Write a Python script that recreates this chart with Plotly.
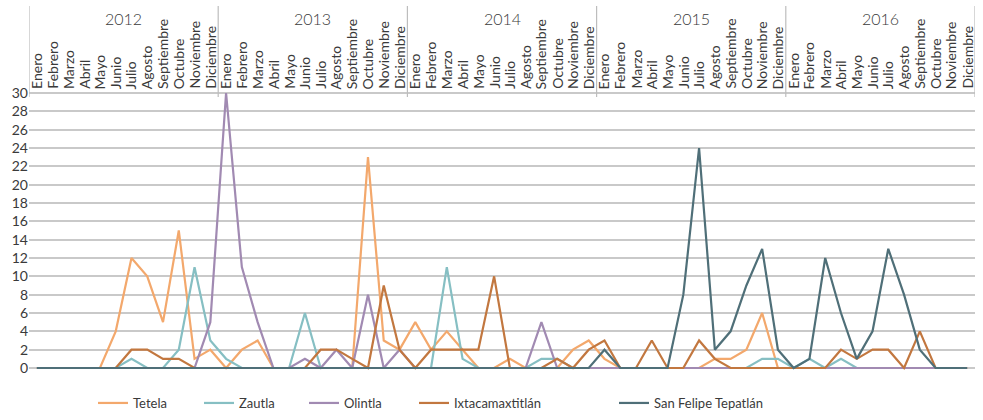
import plotly.graph_objects as go

years = ["2012", "2013", "2014", "2015", "2016"]
months = ["Enero", "Febrero", "Marzo", "Abril", "Mayo", "Junio", "Julio",
          "Agosto", "Septiembre", "Octubre", "Noviembre", "Diciembre"]

tetela = [0, 0, 0, 0, 0, 4, 12, 10, 5, 15, 1, 2,
          0, 2, 3, 0, 0, 0, 0, 0, 0, 23, 3, 2,
          5, 2, 4, 2, 0, 0, 1, 0, 0, 0, 2, 3,
          1, 0, 0, 0, 0, 0, 0, 1, 1, 2, 6, 0,
          0, 0, 0, 0, 0, 0, 0, 0, 0, 0, 0, 0]
zautla = [0, 0, 0, 0, 0, 0, 1, 0, 0, 2, 11, 3,
          1, 0, 0, 0, 0, 6, 0, 0, 0, 0, 0, 0,
          0, 0, 11, 1, 0, 0, 0, 0, 1, 1, 0, 0,
          0, 0, 0, 0, 0, 0, 0, 0, 0, 0, 1, 1,
          0, 1, 0, 1, 0, 0, 0, 0, 0, 0, 0, 0]
olintla = [0, 0, 0, 0, 0, 0, 0, 0, 0, 0, 0, 5,
           30, 11, 5, 0, 0, 1, 0, 2, 0, 8, 0, 2,
           0, 0, 0, 0, 0, 0, 0, 0, 5, 0, 0, 0,
           0, 0, 0, 0, 0, 0, 0, 0, 0, 0, 0, 0,
           0, 0, 0, 0, 0, 0, 0, 0, 0, 0, 0, 0]
ixtacamaxtitlan = [0, 0, 0, 0, 0, 0, 2, 2, 1, 1, 0, 0,
                   0, 0, 0, 0, 0, 0, 2, 2, 1, 0, 9, 2,
                   0, 2, 2, 2, 2, 10, 0, 0, 0, 1, 0, 2,
                   3, 0, 0, 3, 0, 0, 3, 1, 0, 0, 0, 0,
                   0, 0, 0, 2, 1, 2, 2, 0, 4, 0, 0, 0]
san_felipe = [0, 0, 0, 0, 0, 0, 0, 0, 0, 0, 0, 0,
              0, 0, 0, 0, 0, 0, 0, 0, 0, 0, 0, 0,
              0, 0, 0, 0, 0, 0, 0, 0, 0, 0, 0, 0,
              2, 0, 0, 0, 0, 8, 24, 2, 4, 9, 13, 2,
              0, 1, 12, 6, 1, 4, 13, 8, 2, 0, 0, 0]

series_names = ["Tetela", "Zautla", "Olintla", "Ixtacamaxtitlán", "San Felipe Tepatlán"]
series_values = [tetela, zautla, olintla, ixtacamaxtitlan, san_felipe]
colors = ["#F3A86C", "#86BFC3", "#A18AB2", "#C2773F", "#4F6F78"]

n = len(years) * len(months)
xs = list(range(n))

W, H = 983, 420
ML, MR, MT, MB = 29, 8, 90, 48
PW = W - ML - MR
PH = H - MT - MB

FONT = "Lato"
TXT = "#3a3a3a"

fig = go.Figure()
legend_text_px = [135, 241, 346, 456, 656]
for i, (name, vals, col) in enumerate(zip(series_names, series_values, colors)):
    lg = "legend" if i == 0 else f"legend{i+1}"
    fig.add_trace(go.Scatter(
        x=xs, y=vals, mode="lines", name=name,
        line=dict(color=col, width=2.2),
        legend=lg, hoverinfo="x+y+name",
    ))

annotations = []
for yi, yr in enumerate(years):
    for mi, m in enumerate(months):
        annotations.append(dict(
            x=yi * 12 + mi, xref="x", y=1 - 1 / PH, yref="paper",
            text=m, textangle=-90, showarrow=False,
            xanchor="center", yanchor="bottom",
            font=dict(family=FONT, size=14, color=TXT),
        ))
    annotations.append(dict(
        x=yi * 12 + 5.5, xref="x", y=1 + (MT - 18) / PH, yref="paper",
        text=yr, showarrow=False, xanchor="center", yanchor="middle",
        font=dict(family=FONT, size=16, color=TXT, weight=300),
    ))

shapes = []
for k in range(len(years) + 1):
    shapes.append(dict(
        type="line", xref="x", yref="paper",
        x0=k * 12 - 0.5, x1=k * 12 - 0.5,
        y0=1 - 7 / PH, y1=1 + (MT - 6) / PH,
        line=dict(color="#BDBDBD", width=1.2),
    ))

layout_legends = {}
for i, tx in enumerate(legend_text_px):
    key = "legend" if i == 0 else f"legend{i+1}"
    layout_legends[key] = dict(
        x=(tx - 42 - ML) / PW, xanchor="left",
        y=-(403 - (H - MB)) / PH, yanchor="middle",
        orientation="h", bgcolor="rgba(0,0,0,0)",
        font=dict(family=FONT, size=13, color=TXT),
        itemwidth=30,
    )

fig.update_layout(
    width=W, height=H,
    margin=dict(l=ML, r=MR, t=MT, b=MB, autoexpand=False),
    paper_bgcolor="white", plot_bgcolor="white",
    showlegend=True,
    annotations=annotations,
    shapes=shapes,
    xaxis=dict(range=[-0.5, n - 0.5], showgrid=False, zeroline=False,
               showticklabels=False, showline=False, ticks="", automargin=False),
    yaxis=dict(range=[-4 / 9.165, 30 + 3 / 9.165], tickmode="array",
               tickvals=list(range(0, 31, 2)),
               ticktext=[str(v) for v in range(0, 31, 2)],
               showgrid=True, gridcolor="#C9C9C9", gridwidth=1.5,
               zeroline=False, showline=False, ticks="", automargin=False,
               tickfont=dict(family=FONT, size=14, color=TXT)),
    **layout_legends,
)

fig.write_html("out.html",
               config={"displayModeBar": False},
               post_script="document.body.style.margin='0';document.body.style.overflow='hidden';")
